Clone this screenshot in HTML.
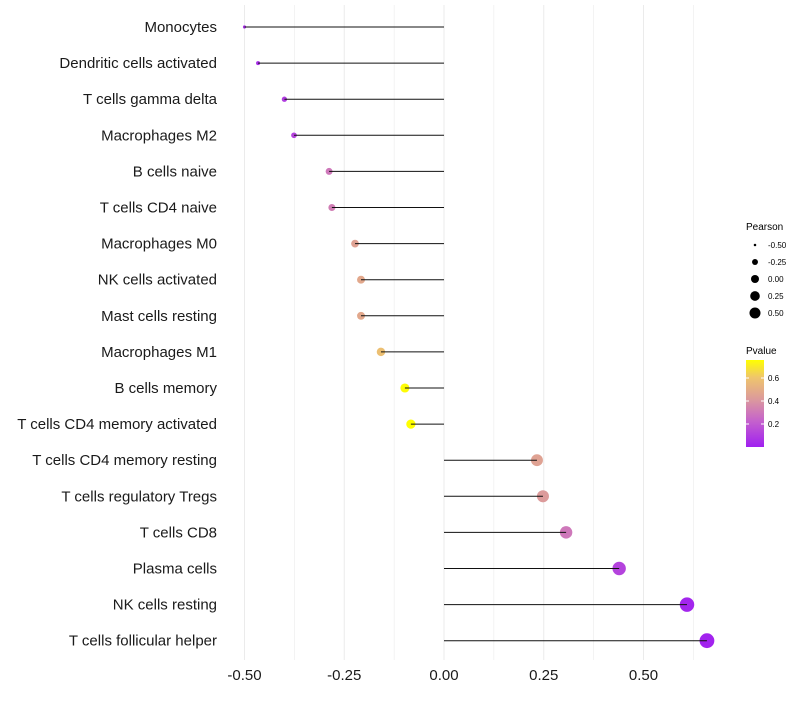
<!DOCTYPE html>
<html><head><meta charset="utf-8"><style>
body{margin:0;background:#fff;font-family:"Liberation Sans",sans-serif}
</style></head><body>
<svg id="chart" width="800" height="700" xmlns="http://www.w3.org/2000/svg">
<defs><linearGradient id="pg" x1="0" y1="1" x2="0" y2="0">
<stop offset="0" stop-color="#a020f0"/><stop offset="0.3" stop-color="#c562cc"/><stop offset="0.55" stop-color="#dc9a9c"/><stop offset="0.8" stop-color="#efc56c"/><stop offset="1" stop-color="#ffff00"/></linearGradient></defs>
<g id="grid"></g><g id="dots"></g><g id="marks"></g><g id="ylab"></g><g id="xlab"></g>
<g>
<text x="746" y="230" font-size="10">Pearson</text>
<g id="sizeleg"></g></g>
<g>
<text x="746" y="354" font-size="10">Pvalue</text>
<rect x="746" y="360" width="18" height="87" fill="url(#pg)"/>
<g id="colleg"></g></g>
</svg>
<script>
const categories=["Monocytes","Dendritic cells activated","T cells gamma delta","Macrophages M2","B cells naive","T cells CD4 naive","Macrophages M0","NK cells activated","Mast cells resting","Macrophages M1","B cells memory","T cells CD4 memory activated","T cells CD4 memory resting","T cells regulatory  Tregs ","T cells CD8","Plasma cells","NK cells resting","T cells follicular helper"];
const pearson=[-0.50,-0.466,-0.40,-0.376,-0.288,-0.281,-0.223,-0.208,-0.208,-0.158,-0.098,-0.083,0.233,0.248,0.306,0.439,0.609,0.659];
const pvalue=[0.05,0.05,0.1,0.12,0.3,0.32,0.45,0.48,0.48,0.58,0.75,0.76,0.45,0.42,0.3,0.12,0.02,0.01];
const xTicks=[-0.5,-0.25,0,0.25,0.5];
const xTickLabels=["-0.50","-0.25","0.00","0.25","0.50"];
const sizeLegend=[-0.5,-0.25,0,0.25,0.5];
const sizeLegendLabels=["-0.50","-0.25","0.00","0.25","0.50"];
const colLegend=[0.2,0.4,0.6];
const NS="http://www.w3.org/2000/svg";
const xs=v=>444+v*399;
const ys=i=>27+i*36.1;
const rad=v=>Math.sqrt(2.5+45*(v+0.5));
const stops=[[0,[160,32,240]],[0.3,[197,98,204]],[0.55,[220,154,156]],[0.8,[239,197,108]],[1,[255,255,0]]];
function col(p){let t=Math.max(0,Math.min(1,p/0.757));for(let k=1;k<stops.length;k++){if(t<=stops[k][0]){const a=stops[k-1],b=stops[k];const f=(t-a[0])/(b[0]-a[0]);return "rgb("+a[1].map((c,j)=>Math.round(c+(b[1][j]-c)*f)).join(",")+")";}}return "rgb(255,255,0)";}
function el(t,a,p){const e=document.createElementNS(NS,t);for(const k in a)e.setAttribute(k,a[k]);p.appendChild(e);return e;}
const grid=document.getElementById('grid');
for(let v=-0.5;v<=0.626;v+=0.125){const g=el('line',{x1:xs(v),x2:xs(v),y1:5,y2:660,stroke:'#ebebeb','stroke-width':Math.abs(v*4-Math.round(v*4))<1e-6?1:0.6},grid);

}
const marks=document.getElementById('marks'),dots=document.getElementById('dots'),yl=document.getElementById('ylab'),xl=document.getElementById('xlab');
categories.forEach((c,i)=>{
const d=el('circle',{cx:xs(pearson[i]),cy:ys(i),r:rad(pearson[i]),fill:col(pvalue[i])},dots);


const s=el('line',{x1:xs(0),x2:xs(pearson[i]),y1:ys(i),y2:ys(i),stroke:'#111','stroke-width':1},marks);


const t=el('text',{x:217,y:ys(i)+5,'text-anchor':'end','font-size':15,fill:'#1a1a1a'},yl);t.textContent=c;


});
xTicks.forEach((v,i)=>{const t=el('text',{x:xs(v),y:680,'text-anchor':'middle','font-size':15,fill:'#1a1a1a'},xl);t.textContent=xTickLabels[i];

});
const sl=document.getElementById('sizeleg');
sizeLegend.forEach((v,i)=>{const y=245+i*17;const c=el('circle',{cx:755,cy:y,r:rad(v)*0.8,fill:'#000'},sl);


const t=el('text',{x:768,y:y+3,'font-size':8},sl);t.textContent=sizeLegendLabels[i];

});
const cl=document.getElementById('colleg');
colLegend.forEach(v=>{const y=447-v*115;el('line',{x1:746,x2:749,y1:y,y2:y,stroke:'#fff'},cl);el('line',{x1:761,x2:764,y1:y,y2:y,stroke:'#fff'},cl);
const t=el('text',{x:768,y:y+3,'font-size':8},cl);t.textContent=v.toFixed(1);

});
</script>
</body></html>
